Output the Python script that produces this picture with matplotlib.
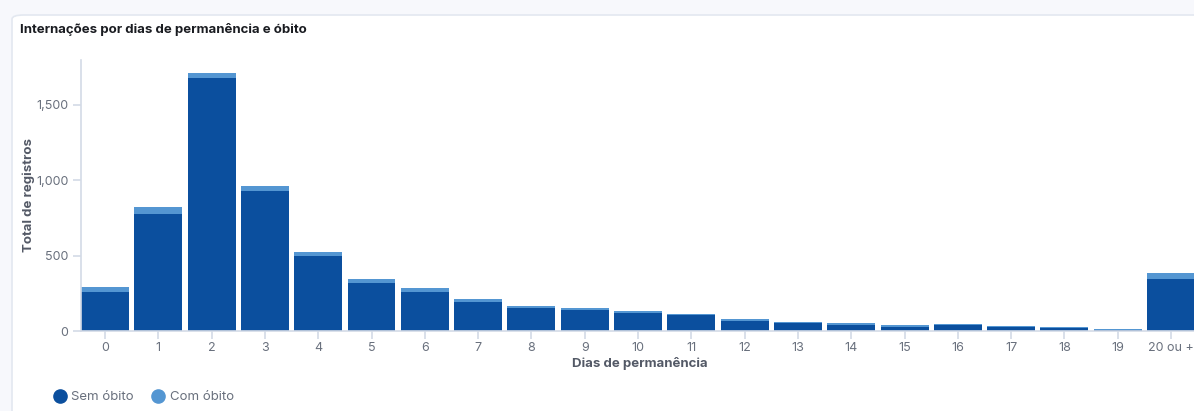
import matplotlib.pyplot as plt
from matplotlib.patches import FancyBboxPatch
from matplotlib.lines import Line2D
from matplotlib.ticker import FuncFormatter, FixedLocator

plt.rcParams['font.family'] = ['Inter', 'DejaVu Sans']

# dias de permanencia
categorias = ['0', '1', '2', '3', '4', '5', '6', '7', '8', '9', '10',
              '11', '12', '13', '14', '15', '16', '17', '18', '19', '20 ou +']
sem_obito = [256, 775, 1673, 929, 499, 320, 258, 192, 152, 139, 117,
             104, 66, 53, 42, 29, 38, 28, 22, 7, 342]
com_obito = [33, 44, 34, 31, 26, 22, 25, 18, 14, 13, 18,
             9, 11, 9, 9, 9, 8, 8, 7, 6, 40]
y_ticks = [0, 500, 1000, 1500]

cor_sem = '#0B4F9E'
cor_com = '#5496D2'
cinza_txt = '#69707D'
cinza_eixo = '#D3DAE6'

W, H = 1194, 411
fig = plt.figure(figsize=(W / 100, H / 100), dpi=100)
fig.patch.set_facecolor('#F7F8FC')

# cartao branco (fundo)
card = FancyBboxPatch((12 / W, -0.2), 1.2, 1.2 - 15 / H, boxstyle='round,pad=0,rounding_size=0.01',
                      transform=fig.transFigure, facecolor='white', edgecolor='#E3E8F0',
                      linewidth=1.2, zorder=-10)
fig.add_artist(card)

fig.text(20 / W, 1 - 29 / H, 'Internações por dias de permanência e óbito',
         fontsize=9.5, fontweight='bold', color='#1A1C21', va='center', ha='left')

ax = fig.add_axes([81 / W, (H - 331) / H, (W - 81) / W, (331 - 60) / H])
ax.set_facecolor('none')

x = list(range(len(categorias)))
ax.bar(x, sem_obito, width=0.9, color=cor_sem, linewidth=0)
ax.bar(x, com_obito, width=0.9, bottom=sem_obito, color=cor_com, linewidth=0)

ax.set_xlim(-0.45, 20.43)
ax.set_ylim(0, 1795)
ax.xaxis.set_major_locator(FixedLocator(x))
ax.set_xticklabels(categorias)
ax.yaxis.set_major_locator(FixedLocator(y_ticks))
ax.yaxis.set_major_formatter(FuncFormatter(lambda v, p: f'{int(v):,}'))

for s in ['top', 'right']:
    ax.spines[s].set_visible(False)
for s in ['left', 'bottom']:
    ax.spines[s].set_color(cinza_eixo)
    ax.spines[s].set_linewidth(1.2)

ax.tick_params(axis='both', colors=cinza_eixo, labelcolor=cinza_txt, labelsize=9,
               length=6, width=1.2)
ax.tick_params(axis='y', pad=3)
ax.tick_params(axis='x', pad=2)

ax.set_ylabel('Total de registros', fontsize=9.5, fontweight='bold', color='#535966')
ax.yaxis.set_label_coords((35 - 81) / (W - 81), 0.5)
ax.set_xlabel('Dias de permanência', fontsize=9.5, fontweight='bold', color='#535966')
ax.xaxis.set_label_coords((640 - 81) / (W - 81), (331 - 357) / (331 - 60))

handles = [Line2D([], [], marker='o', linestyle='', markersize=9.5, color=cor_sem),
           Line2D([], [], marker='o', linestyle='', markersize=9.5, color=cor_com)]
fig.legend(handles, ['Sem óbito', 'Com óbito'], loc='center left',
           bbox_to_anchor=(53 / W, 1 - 397 / H), ncol=2, frameon=False, borderpad=0,
           borderaxespad=0, fontsize=9.5, labelcolor=cinza_txt, handletextpad=0.4,
           columnspacing=1.3, handlelength=1.0)

fig.savefig('out.png', dpi=100, facecolor=fig.get_facecolor())
